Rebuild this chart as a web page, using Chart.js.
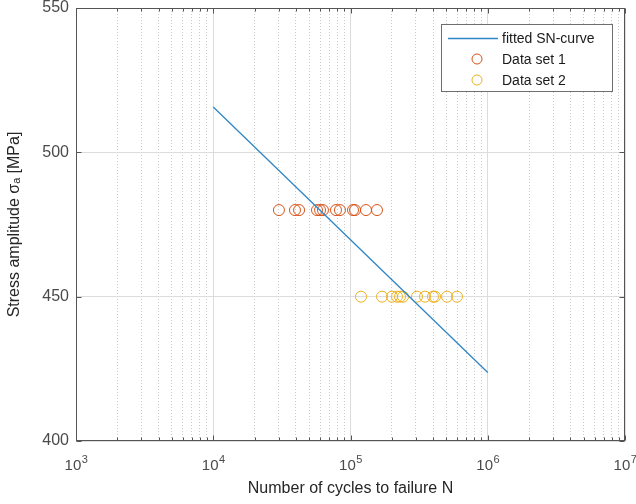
<!DOCTYPE html>
<html>
<head>
<meta charset="utf-8">
<script src="https://cdn.jsdelivr.net/npm/chart.js@4.4.1/dist/chart.umd.min.js"></script>
<style>
  html, body { margin: 0; padding: 0; background: #fff; }
</style>
</head>
<body>
<canvas id="snChart" width="636" height="504"></canvas>
<script>
// fitted SN-curve (read at both ends)
const fitCycles = [1e4, 1e6];
const fitStress = [515.7, 423.7];

// data set 1
const set1Cycles = [30100, 39400, 42200, 57000, 60000, 63000, 78400, 83800, 104300, 107900, 129700, 156000];
const set1Stress = [480, 480, 480, 480, 480, 480, 480, 480, 480, 480, 480, 480];

// data set 2
const set2Cycles = [119300, 169600, 200600, 218200, 229400, 241300, 305200, 349000, 399100, 412800, 505000, 597000];
const set2Stress = [450, 450, 450, 450, 450, 450, 450, 450, 450, 450, 450, 450];

// achsen
const xDecades = [1e3, 1e4, 1e5, 1e6, 1e7];
const xExponents = ['3', '4', '5', '6', '7'];
const yMin = 400, yMax = 550, yStep = 50;

const FONT = '"Liberation Sans", Arial, Helvetica, sans-serif';
const toPoints = (xs, ys) => xs.map((v, i) => ({ x: v, y: ys[i] }));

function isDecade(v) {
    const l = Math.log10(v);
    return Math.abs(l - Math.round(l)) < 1e-9;
}

// Gitterwerte 1..9 x 10^k
const xGridValues = [];
xDecades.forEach((d, i) => {
    if (i === xDecades.length - 1) { xGridValues.push(d); return; }
    for (let m = 1; m <= 9; m++) xGridValues.push(d * m);
});

// Rahmen, Ticks und x-Beschriftung im Matlab-Stil
const matlabAxes = {
    id: 'matlabAxes',
    afterDatasetsDraw(chart) {
        const { ctx, chartArea: a, scales: { x, y } } = chart;
        const L = Math.round(a.left) + 0.5, R = Math.round(a.right) - 0.5;
        const T = Math.round(a.top) + 0.5, B = Math.round(a.bottom) - 0.5;
        ctx.save();
        ctx.strokeStyle = '#555';
        ctx.lineWidth = 1;
        ctx.beginPath();
        x.ticks.forEach(t => {
            const px = Math.round(x.getPixelForValue(t.value)) + 0.5;
            const len = isDecade(t.value) ? 5 : 3;
            ctx.moveTo(px, B); ctx.lineTo(px, B - len);
            ctx.moveTo(px, T); ctx.lineTo(px, T + len);
        });
        y.ticks.forEach(t => {
            const py = Math.round(y.getPixelForValue(t.value)) + 0.5;
            ctx.moveTo(L, py); ctx.lineTo(L + 5, py);
            ctx.moveTo(R, py); ctx.lineTo(R - 5, py);
        });
        ctx.stroke();
        ctx.strokeRect(L, T, R - L, B - T);

        ctx.fillStyle = '#4a4a4a';
        ctx.textBaseline = 'alphabetic';
        ctx.textAlign = 'left';
        xDecades.forEach((v, i) => {
            const px = x.getPixelForValue(v);
            ctx.font = '15px ' + FONT;
            const w1 = ctx.measureText('10').width;
            ctx.font = '11px ' + FONT;
            const w2 = ctx.measureText(xExponents[i]).width;
            const left = px - (w1 + w2) / 2;
            ctx.font = '15px ' + FONT;
            ctx.fillText('10', left, a.bottom + 28.5);
            ctx.font = '11px ' + FONT;
            ctx.fillText(xExponents[i], left + w1 + 0.5, a.bottom + 22);
        });
        ctx.restore();
    },
    afterDraw(chart) {
        // Legende mit Rahmen
        const { ctx } = chart;
        const bx = 441, by = 24, bw = 171, bh = 67;
        ctx.save();
        ctx.fillStyle = '#fff';
        ctx.fillRect(bx, by, bw, bh);
        ctx.strokeStyle = '#6e6e6e';
        ctx.lineWidth = 1;
        ctx.strokeRect(bx + 0.5, by + 0.5, bw, bh);
        ctx.font = '14px ' + FONT;
        ctx.textBaseline = 'middle';
        ctx.textAlign = 'left';
        chart.data.datasets.forEach((ds, i) => {
            const ry = by + 14 + i * 21;
            if (ds.showLine === false) {
                ctx.beginPath();
                ctx.arc(477, ry, 5, 0, Math.PI * 2);
                ctx.strokeStyle = ds.borderColor;
                ctx.stroke();
            } else {
                ctx.beginPath();
                ctx.moveTo(448, ry + 0.5);
                ctx.lineTo(498, ry + 0.5);
                ctx.strokeStyle = ds.borderColor;
                ctx.lineWidth = 1.3;
                ctx.stroke();
                ctx.lineWidth = 1;
            }
            ctx.fillStyle = '#1a1a1a';
            ctx.fillText(ds.label, 502, ry + 1);
        });
        ctx.restore();
    }
};

new Chart(document.getElementById('snChart'), {
    type: 'line',
    data: {
        datasets: [
            {
                label: 'fitted SN-curve',
                data: toPoints(fitCycles, fitStress),
                borderColor: '#2f86c6',
                borderWidth: 1.3,
                pointRadius: 0,
                fill: false
            },
            {
                label: 'Data set 1',
                data: toPoints(set1Cycles, set1Stress),
                showLine: false,
                borderColor: '#D95319',
                backgroundColor: 'rgba(0,0,0,0)',
                pointRadius: 5.5,
                pointBorderWidth: 1
            },
            {
                label: 'Data set 2',
                data: toPoints(set2Cycles, set2Stress),
                showLine: false,
                borderColor: '#EDB120',
                backgroundColor: 'rgba(0,0,0,0)',
                pointRadius: 5.5,
                pointBorderWidth: 1
            }
        ]
    },
    options: {
        responsive: false,
        animation: false,
        layout: { padding: { top: 8, right: 11, bottom: 0, left: 0 } },
        plugins: {
            legend: { display: false },
            tooltip: { enabled: false }
        },
        scales: {
            x: {
                type: 'logarithmic',
                min: xDecades[0],
                max: xDecades[xDecades.length - 1],
                afterBuildTicks: s => { s.ticks = xGridValues.map(v => ({ value: v, major: isDecade(v) })); },
                afterFit: s => { s.height = 63; s.paddingLeft = 0; s.paddingRight = 0; },
                ticks: { display: false },
                grid: {
                    drawTicks: false,
                    color: c => (c.tick && isDecade(c.tick.value)) ? '#dcdcdc' : '#cccccc'
                },
                border: {
                    display: false,
                    dash: c => (c.tick && !isDecade(c.tick.value)) ? [1, 2] : []
                },
                title: {
                    display: true,
                    text: 'Number of cycles to failure N',
                    color: '#262626',
                    font: { size: 16, family: FONT },
                    padding: { top: 0, bottom: 6 }
                }
            },
            y: {
                min: yMin,
                max: yMax,
                afterFit: s => { s.width = 76; s.paddingTop = 0; s.paddingBottom = 0; },
                ticks: {
                    stepSize: yStep,
                    padding: 7,
                    color: '#4a4a4a',
                    font: { size: 16, family: FONT, lineHeight: 1 }
                },
                grid: { drawTicks: false, color: '#dcdcdc' },
                border: { display: false },
                title: {
                    display: true,
                    text: 'Stress amplitude σₐ [MPa]',
                    color: '#262626',
                    font: { size: 16, family: FONT },
                    padding: { top: 5, bottom: 0 }
                }
            }
        }
    },
    plugins: [matlabAxes]
});
</script>
</body>
</html>
